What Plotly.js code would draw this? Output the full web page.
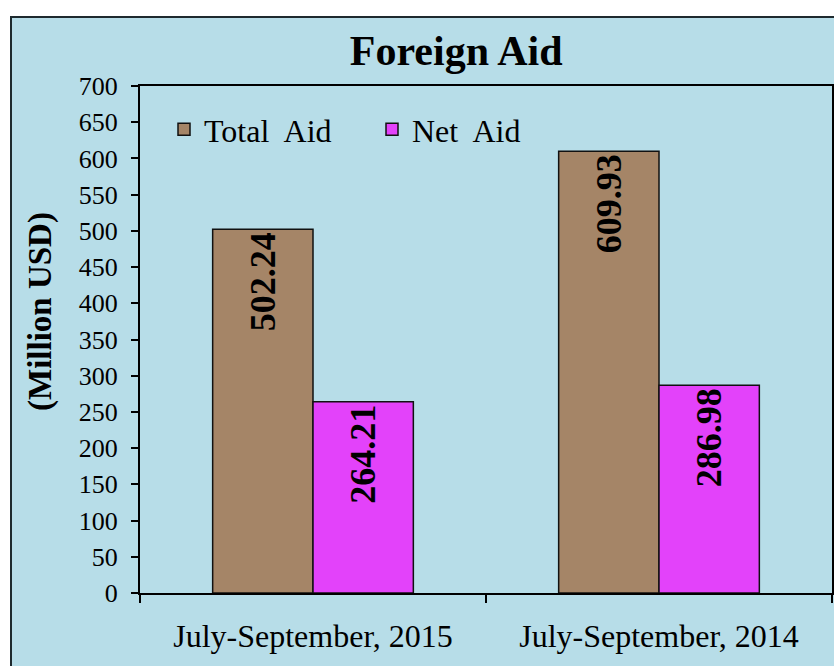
<!DOCTYPE html>
<html>
<head>
<meta charset="utf-8">
<script src="https://cdn.plot.ly/plotly-3.0.1.min.js"></script>
<style>html,body{margin:0;padding:0;background:#fff;}#chart{width:834px;height:666px;}</style>
</head>
<body>
<div id="chart"></div>
<script>
const categories = ["July-September, 2015", "July-September, 2014"];
const totalAid = [502.24, 609.93];
const netAid = [264.21, 286.98];
const seriesNames = ["Total&nbsp; Aid", "Net&nbsp; Aid"];
const yTickVals = [0,50,100,150,200,250,300,350,400,450,500,550,600,650,700];
const yTitle = "(Million USD)";

const bg = "#b7dde8";
const serif = "Liberation Serif";

function barTrace(name, vals, color) {
  return {
    type: "bar",
    name: name,
    x: categories,
    y: vals,
    text: vals.map(v => "<b>" + v.toFixed(2) + "</b>"),
    textposition: "inside",
    insidetextanchor: "end",
    textangle: -90,
    constraintext: "none",
    textfont: {family: serif, size: 36, color: "#000"},
    marker: {color: color, line: {color: "#111", width: 1.5}},
    hoverinfo: "none"
  };
}

const data = [
  barTrace(seriesNames[0], totalAid, "#a58567"),
  barTrace(seriesNames[1], netAid, "#e342fa")
];

const plotH = 593 - 86, plotW = 832 - 140;
const layout = {
  width: 834, height: 666,
  margin: {l: 140, r: 2, t: 86, b: 73},
  paper_bgcolor: "#ffffff",
  plot_bgcolor: bg,
  barmode: "group",
  bargap: 0.42,
  bargroupgap: 0,
  showlegend: true,
  font: {family: serif},
  title: {
    text: "<b>Foreign Aid</b>",
    font: {family: serif, size: 42, color: "#000"},
    xref: "container", x: 0.547, xanchor: "center",
    yref: "container", y: 1 - 50/666, yanchor: "middle"
  },
  legend: {
    orientation: "h",
    x: (164 - 140)/plotW, xanchor: "left",
    y: (593 - 102)/plotH, yanchor: "top",
    bgcolor: "rgba(0,0,0,0)",
    font: {family: serif, size: 32, color: "#000"},
    entrywidth: 163,
    itemwidth: 30,
    traceorder: "normal"
  },
  xaxis: {
    type: "category",
    tickson: "boundaries",
    ticks: "outside", ticklen: 8, tickwidth: 2, tickcolor: "#000",
    showline: true, linecolor: "#000", linewidth: 2, mirror: true,
    showgrid: false, zeroline: false,
    tickfont: {family: serif, size: 32, color: "#000"},
    ticklabelstandoff: 14,
    fixedrange: true
  },
  yaxis: {
    range: [0, 700],
    tickvals: yTickVals,
    ticks: "outside", ticklen: 7, tickwidth: 2, tickcolor: "#000",
    showline: true, linecolor: "#000", linewidth: 2, mirror: true,
    showgrid: false, zeroline: false,
    tickfont: {family: serif, size: 26, color: "#000"},
    ticklabelstandoff: 8,
    automargin: false,
    fixedrange: true
  },
  annotations: [{
    text: "<b>" + yTitle + "</b>",
    xref: "paper", yref: "paper",
    x: (40 - 140)/plotW, y: (593 - 311)/plotH,
    xanchor: "center", yanchor: "middle",
    textangle: -90, showarrow: false,
    font: {family: serif, size: 33, color: "#000"}
  }],
  shapes: [{
    type: "rect", xref: "paper", yref: "paper", layer: "below",
    x0: (11 - 140)/plotW, x1: (840 - 140)/plotW,
    y0: (593 - 700)/plotH, y1: (593 - 17)/plotH,
    fillcolor: bg, line: {color: "#1e2a2e", width: 2}
  }]
};

Plotly.newPlot("chart", data, layout, {displayModeBar: false, staticPlot: true});
</script>
</body>
</html>
